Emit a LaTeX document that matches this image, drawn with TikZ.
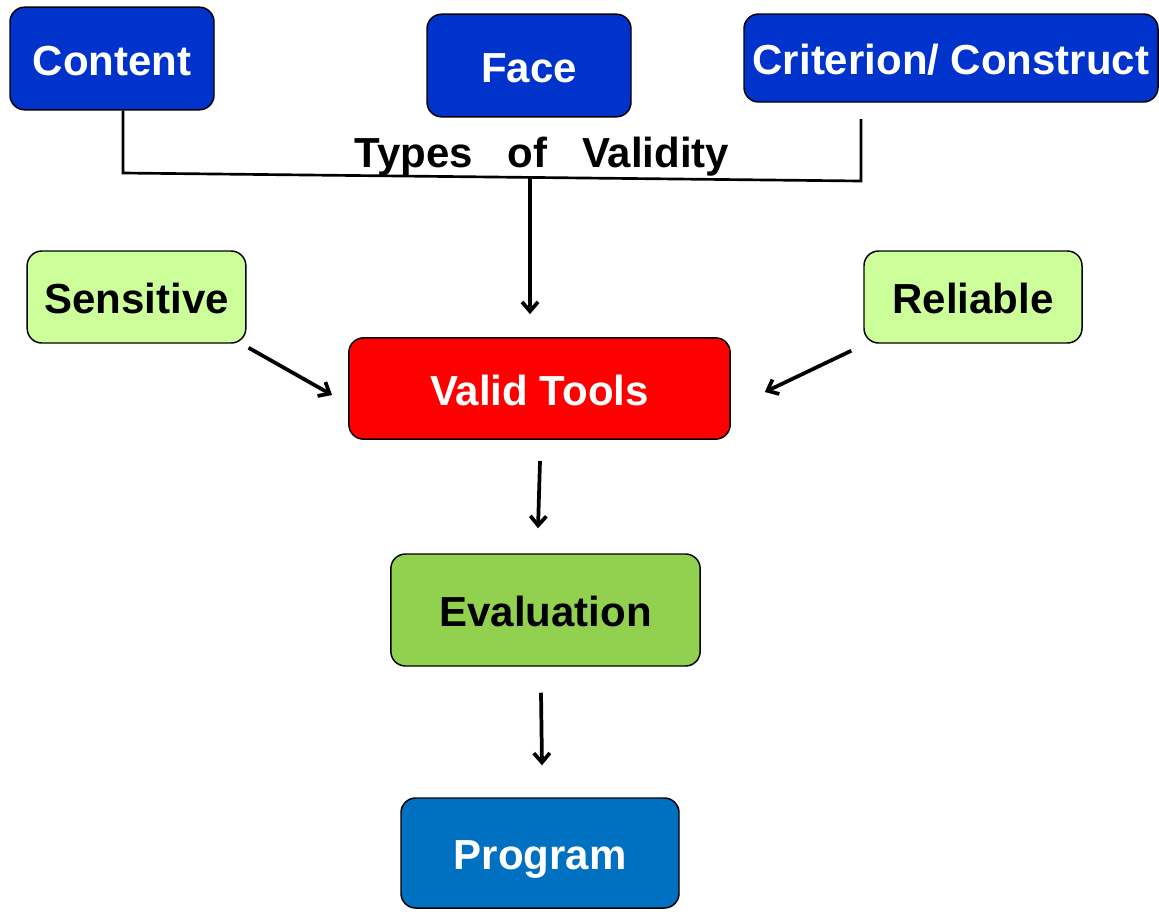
\documentclass[tikz,border=0pt]{standalone}
\usepackage{fontspec}
\setmainfont{Liberation Sans}
\usetikzlibrary{arrows.meta}
\definecolor{typebleu}{RGB}{0,51,204}
\definecolor{progbleu}{RGB}{0,112,192}
\definecolor{outilrouge}{RGB}{255,0,0}
\definecolor{vertclair}{RGB}{204,255,153}
\definecolor{vertfonce}{RGB}{146,208,80}
\begin{document}
\begin{tikzpicture}[x=0.75pt, y=-0.75pt, font=\fontsize{31.5}{36}\selectfont\bfseries,
	boite/.style={draw=black, line width=1.1pt, rounded corners=11pt, inner sep=0pt,
		text height=25pt, text depth=0pt},
	fleche/.style={-{Straight Barb[length=7pt,width=12pt,line width=2.8pt]}, line width=2.8pt},
	trait/.style={line width=2pt, line join=miter}]
	\useasboundingbox (0,0) rectangle (1159,911);
	% types de validite
	\node[boite, fill=typebleu, text=white, minimum width=153pt, minimum height=77pt] (content) at (112,58.5) {Content};
	\node[boite, fill=typebleu, text=white, minimum width=153pt, minimum height=77pt] (face) at (529,65.5) {Face};
	\node[boite, fill=typebleu, text=white, minimum width=310.5pt, minimum height=66pt] (critere) at (951,58) {Criterion/ Construct};
	\coordinate (tl) at (123,173);
	\coordinate (tr) at (861,181);
	\coordinate (tt) at (861,119);
	\coordinate (jn) at (530,177.5);
	\draw[trait] (content.south -| tl) -- (tl) -- (tr) -- (tt);
	\node[anchor=base] (types) at (542,167) {Types\hspace{26pt}of\hspace{26pt}Validity};
	% outils
	\node[boite, fill=vertclair, minimum width=164pt, minimum height=69pt] (sensitive) at (136.5,297) {Sensitive};
	\node[boite, fill=vertclair, minimum width=163.5pt, minimum height=69pt] (reliable) at (973,297) {Reliable};
	\node[boite, fill=outilrouge, text=white, minimum width=286pt, minimum height=76pt] (valid) at (539.5,388.5) {Valid Tools};
	\node[boite, fill=vertfonce, minimum width=232pt, minimum height=84pt] (eval) at (545.5,610) {Evaluation};
	\node[boite, fill=progbleu, text=white, minimum width=208.5pt, minimum height=82.5pt] (program) at (540,853) {Program};
	% fleches
	\draw[fleche] (jn) -- ([shift={(0,-23)}]valid.north -| jn);
	\draw[fleche] ([shift={(2,4)}]sensitive.south east) -- ([shift={(-16,6.5)}]valid.west);
	\draw[fleche] ([shift={(-12,7)}]reliable.south west) -- ([shift={(34,3.5)}]valid.east);
	\draw[fleche] ([shift={(0.5,21)}]valid.south) -- ([shift={(-7.5,-25)}]eval.north);
	\draw[fleche] ([shift={(-4.5,26)}]eval.south) -- ([shift={(2,-32)}]program.north);
\end{tikzpicture}
\end{document}
